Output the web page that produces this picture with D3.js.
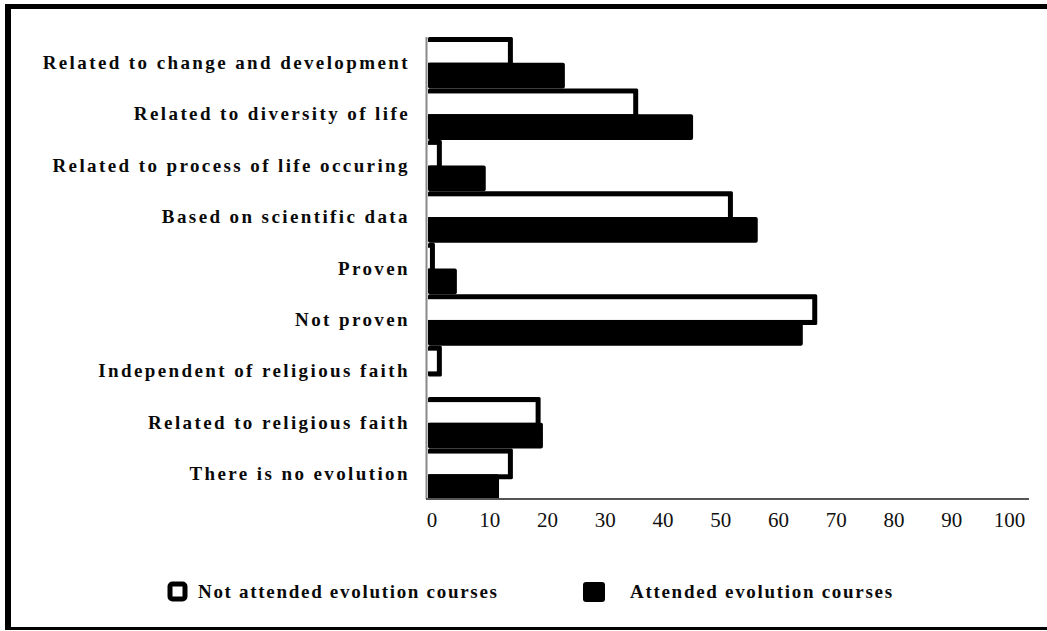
<!DOCTYPE html>
<html>
<head>
<meta charset="utf-8">
<script src="https://cdn.jsdelivr.net/npm/d3@7"></script>
<style>
  html, body { margin: 0; padding: 0; background: #fff; }
  svg { display: block; }
</style>
</head>
<body>
<script>
const categories = [
  "Related to change and development",
  "Related to diversity of life",
  "Related to process of life occuring",
  "Based on scientific data",
  "Proven",
  "Not proven",
  "Independent of religious faith",
  "Related to religious faith",
  "There is no evolution"
];
const notAttended = [14.7, 36.4, 2.4, 52.8, 1.2, 67.4, 2.4, 19.5, 14.7];
const attended    = [23.7, 45.9, 10.0, 57.1, 5.0, 64.9, 0, 19.9, 12.3];
const tickValues = [0, 10, 20, 30, 40, 50, 60, 70, 80, 90, 100];
const legendLabels = ["Not attended evolution courses", "Attended evolution courses"];

const W = 1047, H = 631;
const svg = d3.select("body").append("svg").attr("width", W).attr("height", H);

// frame
svg.append("rect").attr("x", 0).attr("y", 0).attr("width", W).attr("height", H).attr("fill", "#fff");
svg.append("rect").attr("x", 5).attr("y", 4).attr("width", W - 5).attr("height", 5).attr("fill", "#000");
svg.append("rect").attr("x", 5).attr("y", 4).attr("width", 6).attr("height", 626).attr("fill", "#000");
svg.append("rect").attr("x", 5).attr("y", 627).attr("width", W - 5).attr("height", 3).attr("fill", "#000");

const x = d3.scaleLinear().domain([0, 100]).range([428, 1005.5]);
const y = d3.scaleBand().domain(categories).range([37, 500]).padding(0);
const bw = y.bandwidth();
const half = bw / 2;
const sw = 5;

const rows = categories.map((c, i) => ({ c, w: notAttended[i], b: attended[i] }));

const g = svg.append("g");
rows.forEach(d => {
  const y0 = y(d.c);
  const wx = x(d.w) - x(0);
  g.append("rect").attr("x", x(0)).attr("y", y0).attr("width", wx).attr("height", half + sw).attr("fill", "#000").attr("rx", 1.5);
  g.append("rect").attr("x", x(0)).attr("y", y0 + sw).attr("width", Math.max(0, wx - sw)).attr("height", half - sw).attr("fill", "#fff");
  if (d.b > 0) {
    g.append("rect").attr("x", x(0)).attr("y", y0 + half).attr("width", x(d.b) - x(0)).attr("height", half).attr("fill", "#000").attr("rx", 2);
  }
});

// axes lines
svg.append("line").attr("x1", 426.5).attr("x2", 426.5).attr("y1", 37).attr("y2", 499).attr("stroke", "#8a8a8a").attr("stroke-width", 2);
svg.append("line").attr("x1", 426).attr("x2", 1029).attr("y1", 499).attr("y2", 499).attr("stroke", "#555").attr("stroke-width", 2);

// category labels
svg.append("g").selectAll("text").data(categories).join("text")
  .attr("x", 410)
  .attr("y", d => y(d) + bw / 2 + 6)
  .attr("text-anchor", "end")
  .attr("font-family", "'Liberation Serif', 'Times New Roman', serif")
  .attr("font-weight", "bold")
  .attr("font-size", 19)
  .attr("letter-spacing", 2.4)
  .attr("fill", "#0a0a0a")
  .text(d => d);

// tick labels
svg.append("g").selectAll("text").data(tickValues).join("text")
  .attr("x", d => x(d) + 4)
  .attr("y", 527)
  .attr("text-anchor", "middle")
  .attr("font-family", "'Liberation Serif', 'Times New Roman', serif")
  .attr("font-size", 21)
  .attr("fill", "#111")
  .text(d => d);

// legend
const lg = svg.append("g");
lg.append("rect").attr("x", 170).attr("y", 584).attr("width", 15).attr("height", 15)
  .attr("fill", "#fff").attr("stroke", "#000").attr("stroke-width", 5).attr("rx", 2.5);
lg.append("rect").attr("x", 583).attr("y", 582).attr("width", 22).attr("height", 20)
  .attr("fill", "#000").attr("rx", 3);
lg.selectAll("text").data(legendLabels).join("text")
  .attr("x", (d, i) => i === 0 ? 198 : 630)
  .attr("y", 598)
  .attr("font-family", "'Liberation Serif', 'Times New Roman', serif")
  .attr("font-weight", "bold")
  .attr("font-size", 19)
  .attr("letter-spacing", 1.7)
  .attr("fill", "#0a0a0a")
  .text(d => d);
</script>
</body>
</html>
